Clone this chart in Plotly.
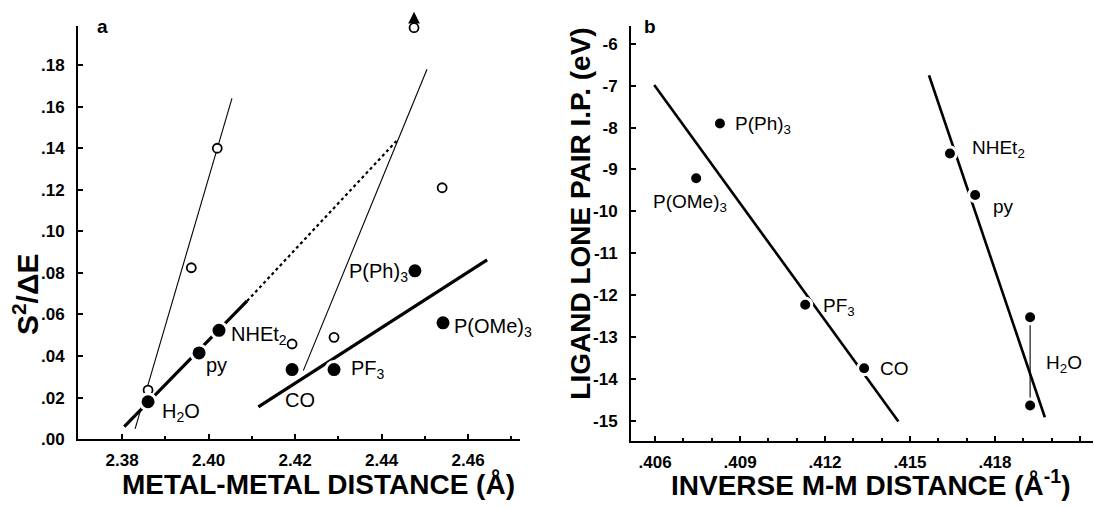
import plotly.graph_objects as go

# ---------------- Panel a data ----------------
a_filled_names = ["H<sub>2</sub>O", "py", "NHEt<sub>2</sub>", "CO", "PF<sub>3</sub>", "P(Ph)<sub>3</sub>", "P(OMe)<sub>3</sub>"]
a_filled_x = [2.386, 2.3978, 2.4024, 2.4193, 2.429, 2.4477, 2.4542]
a_filled_y = [0.018, 0.0415, 0.0524, 0.0335, 0.0335, 0.081, 0.056]

a_open_x = [2.386, 2.396, 2.402, 2.4193, 2.429, 2.4475, 2.454]
a_open_y = [0.0236, 0.0825, 0.140, 0.0458, 0.049, 0.198, 0.121]

a_thin1_x = [2.383, 2.4054]
a_thin1_y = [0.005, 0.164]
a_thin2_x = [2.4219, 2.4505]
a_thin2_y = [0.033, 0.178]
a_thick_solid_x = [2.4115, 2.4644]
a_thick_solid_y = [0.0155, 0.0863]
a_thick_dash_x = [2.3805, 2.4089]
a_thick_dash_y = [0.006, 0.0665]
a_dotted_x = [2.4089, 2.4438]
a_dotted_y = [0.0665, 0.1443]

a_xticks = [2.38, 2.40, 2.42, 2.44, 2.46]
a_xticktext = ["2.38", "2.40", "2.42", "2.44", "2.46"]
a_yticks = [0.00, 0.02, 0.04, 0.06, 0.08, 0.10, 0.12, 0.14, 0.16, 0.18]
a_yticktext = [".00", ".02", ".04", ".06", ".08", ".10", ".12", ".14", ".16", ".18"]

# ---------------- Panel b data ----------------
b_names = ["P(Ph)<sub>3</sub>", "P(OMe)<sub>3</sub>", "PF<sub>3</sub>", "CO", "NHEt<sub>2</sub>", "py"]
b_x = [0.40829, 0.40745, 0.4113, 0.41338, 0.41641, 0.4173]
b_y = [-7.90, -9.21, -12.23, -13.75, -8.62, -9.61]
b_h2o_x = [0.41924, 0.41924]
b_h2o_y = [-12.53, -14.64]

b_line1_x = [0.40597, 0.41459]
b_line1_y = [-6.98, -15.02]
b_line2_x = [0.41567, 0.41976]
b_line2_y = [-6.75, -14.92]

b_xticks = [0.406, 0.409, 0.412, 0.415, 0.418, 0.421]
b_xticktext = [".406", ".409", ".412", ".415", ".418", ".421"]
b_yticks = [-6, -7, -8, -9, -10, -11, -12, -13, -14, -15]
b_yticktext = ["-6", "-7", "-8", "-9", "-10", "-11", "-12", "-13", "-14", "-15"]

W, H = 1094, 508
FONT = "Liberation Sans"

fig = go.Figure()

def line(x, y, w, xa, ya, dash="solid"):
    fig.add_trace(go.Scatter(x=x, y=y, mode="lines", xaxis=xa, yaxis=ya,
                             line=dict(color="black", width=w, dash=dash),
                             hoverinfo="skip", showlegend=False))

# panel a lines
line(a_thin1_x, a_thin1_y, 1.1, "x", "y")
line(a_thin2_x, a_thin2_y, 1.1, "x", "y")
line(a_thick_solid_x, a_thick_solid_y, 3.2, "x", "y")
line(a_thick_dash_x, a_thick_dash_y, 3.2, "x", "y")
line(a_dotted_x, a_dotted_y, 2.2, "x", "y", dash="dot")

# panel a open circles
fig.add_trace(go.Scatter(x=a_open_x, y=a_open_y, mode="markers", xaxis="x", yaxis="y",
                         marker=dict(symbol="circle", size=9, color="white",
                                     line=dict(color="black", width=1.8)),
                         cliponaxis=False, hoverinfo="skip", showlegend=False))
# panel a filled circles
fig.add_trace(go.Scatter(x=a_filled_x, y=a_filled_y, mode="markers", xaxis="x", yaxis="y",
                         marker=dict(symbol="circle", size=16, color="black",
                                     line=dict(color="white", width=3)),
                         cliponaxis=False, hoverinfo="skip", showlegend=False))

# panel b lines
line(b_line1_x, b_line1_y, 2.6, "x2", "y2")
line(b_line2_x, b_line2_y, 2.6, "x2", "y2")
line(b_h2o_x, b_h2o_y, 1.1, "x2", "y2")
fig.add_trace(go.Scatter(x=b_x + b_h2o_x, y=b_y + b_h2o_y, mode="markers", xaxis="x2", yaxis="y2",
                         marker=dict(symbol="circle", size=13, color="black",
                                     line=dict(color="white", width=3)),
                         cliponaxis=False, hoverinfo="skip", showlegend=False))

axis_common = dict(showline=True, linecolor="black", linewidth=2, showgrid=False, zeroline=False,
                   ticks="inside", ticklen=5, tickwidth=1.5, tickcolor="black",
                   tickfont=dict(family=FONT, size=17, color="black", weight="bold"),
                   mirror=False, fixedrange=True)

ydom = [1 - 448 / H, 1 - 27 / H]
fig.update_layout(
    width=W, height=H, margin=dict(l=0, r=0, t=0, b=0),
    paper_bgcolor="white", plot_bgcolor="white", showlegend=False,
    font=dict(family=FONT, size=17, color="black"),
    xaxis=dict(domain=[78 / W, 520 / W], range=[2.3698, 2.472], tickvals=a_xticks,
               ticktext=a_xticktext, anchor="y", ticklabelstandoff=4,
               minor=dict(ticks="inside", ticklen=3, tickcolor="black", dtick=0.01), **axis_common),
    yaxis=dict(domain=ydom, range=[0, 0.1986], tickvals=a_yticks, ticktext=a_yticktext,
               anchor="x", ticklabelstandoff=8, **axis_common),
    xaxis2=dict(domain=[631 / W, 1093 / W], range=[0.40515, 0.42146], tickvals=b_xticks,
                ticktext=b_xticktext, anchor="y2", ticklabelstandoff=4,
                minor=dict(ticks="inside", ticklen=3, tickcolor="black", dtick=0.001), **axis_common),
    yaxis2=dict(domain=[1 - 450 / H, 1 - 27 / H], range=[-15.49, -5.584], tickvals=b_yticks,
                ticktext=b_yticktext, anchor="x2", ticklabelstandoff=8, **axis_common),
)

ann = []
def label(text, x, y, xa, ya, xanchor, xshift, yshift, size):
    ann.append(dict(text=text, x=x, y=y, xref=xa, yref=ya, showarrow=False,
                    xanchor=xanchor, yanchor="middle", xshift=xshift, yshift=yshift,
                    font=dict(family=FONT, size=size, color="black")))

# panel a point labels
a_label_pos = [("left", 12, -11), ("left", 5, -12), ("left", 10, -5), ("center", 8, -30),
               ("left", 15, 0), ("right", -5, -2), ("left", 9, -5)]
for name, x, y, (xa_, xs, ys) in zip(a_filled_names, a_filled_x, a_filled_y, a_label_pos):
    label(name, x, y, "x", "y", xa_, xs, ys, 20)

# panel b point labels
b_label_pos = [("left", 13, -2), ("center", -6, -25), ("left", 16, -2), ("left", 14, 0),
               ("left", 20, 5), ("left", 16, -12)]
for name, x, y, (xa_, xs, ys) in zip(b_names, b_x, b_y, b_label_pos):
    label(name, x, y, "x2", "y2", xa_, xs, ys, 19)
label("H<sub>2</sub>O", b_h2o_x[0], b_h2o_y[0], "x2", "y2", "left", 14, -47, 19)

def paper_text(text, px, py, size, angle=0, bold=True):
    ann.append(dict(text=text, x=px / W, y=1 - py / H, xref="paper", yref="paper",
                    showarrow=False, xanchor="center", yanchor="middle", textangle=angle,
                    font=dict(family=FONT, size=size, color="black",
                              weight="bold" if bold else "normal")))

paper_text("a", 102, 27, 19)
paper_text("b", 650, 27, 19)
paper_text("METAL-METAL DISTANCE (Å)", 318, 494, 28)
paper_text("INVERSE M-M DISTANCE (Å<sup>-1</sup>)", 871, 493, 28)
paper_text("S<sup>2</sup>/ΔE", 26, 300, 30, angle=-90)
paper_text("LIGAND LONE PAIR I.P. (eV)", 581, 218, 28, angle=-90)

# arrow above the off-scale open circle (x tied to data, y in paper space above the plot)
ann.append(dict(text=" ", x=a_open_x[5], y=1 - 12 / H, xref="x", yref="paper", showarrow=True,
                ax=0, ay=11, standoff=0, startstandoff=0, arrowhead=2, arrowsize=1.3,
                arrowwidth=1.8, arrowcolor="black", font=dict(size=2)))

fig.update_layout(annotations=ann)
fig.write_html("out.html", config={"displayModeBar": False},
               post_script="document.body.style.margin='0';document.body.style.padding='0';"
                           "document.body.style.overflow='hidden';")
